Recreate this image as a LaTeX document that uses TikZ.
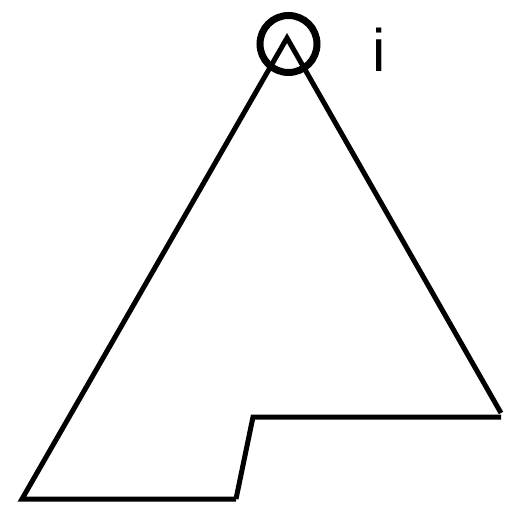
\documentclass[tikz,border=0pt]{standalone}
\usepackage{fontspec}
\setmainfont{Liberation Sans}
\begin{document}
\begin{tikzpicture}[x=1pt,y=-1pt,
  outline/.style={line width=5pt,line join=miter,black},
  ring/.style={circle,draw,line width=7pt,minimum size=57pt,inner sep=0pt},
  lbl/.style={font=\fontsize{60}{60}\selectfont,inner sep=0pt,anchor=base}]
\useasboundingbox (0,0) rectangle (520,505);
\coordinate (apex) at (287,38);
\coordinate (bl) at (22,499);
\coordinate (bm) at (236,499);
\coordinate (st) at (253,417);
\coordinate (br) at (501,417);
\draw[outline] (bm) -- (bl) -- (apex) -- (501,413);
\draw[outline] (bm) -- (st) -- (br);
\node[ring] (c) at (288.5,44) {};
\node[lbl] (i) at (379,72) {i};
\end{tikzpicture}
\end{document}
